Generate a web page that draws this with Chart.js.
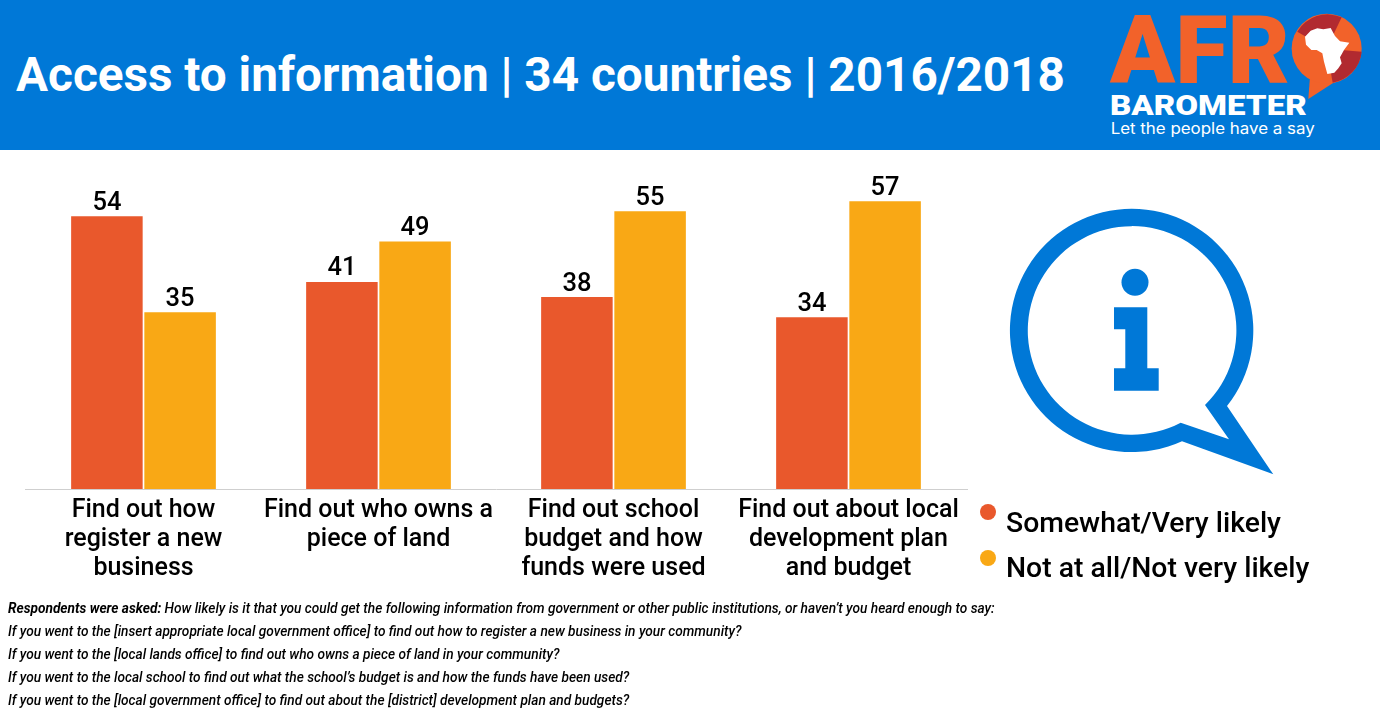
<!DOCTYPE html>
<html>
<head>
<meta charset="utf-8">
<title>Access to information</title>
<script src="https://cdn.jsdelivr.net/npm/chart.js@4"></script>
<style>
    html, body { margin: 0; padding: 0; background: #fff; }
    body { position: relative; width: 1380px; height: 720px; overflow: hidden; font-family: Roboto, sans-serif; color: #000; }
    #banner { position: absolute; left: 0; top: 0; width: 1380px; height: 150px; background: #0078d7; }
    #banner h1 { position: absolute; left: 16px; top: 47px; margin: 0; font-size: 47.7px; line-height: 56px; font-weight: 700; color: #fff; white-space: nowrap; }
    #logo { position: absolute; left: 1090px; top: 0; width: 290px; height: 150px; }
    #chart-box { position: absolute; left: 0; top: 150px; width: 975px; height: 450px; }
    #icon { position: absolute; left: 0; top: 0; width: 1380px; height: 720px; pointer-events: none; }
    #legend { position: absolute; left: 980px; top: 0; }
    .legend-dot { position: absolute; left: 0; width: 16px; height: 16px; border-radius: 50%; }
    .legend-text { position: absolute; left: 26px; font-size: 28.35px; line-height: 34px; font-weight: 500; white-space: nowrap; }
    #notes { position: absolute; left: 8px; top: 597px; font-size: 13.69px; line-height: 23px; font-style: italic; font-weight: 500; white-space: nowrap; }
    #notes b { font-weight: 700; }
</style>
</head>
<body>
<div id="banner">
    <h1>Access to information | 34 countries | 2016/2018</h1>
    <svg id="logo" viewBox="0 0 870 450">
        <text x="60" y="248" font-family="Roboto" font-weight="900" font-size="282" fill="#f2622a" textLength="540" lengthAdjust="spacingAndGlyphs">AFR</text>
        <path fill="#f2622a" d="M660 230 L655 297 L735 245 Z"/>
        <circle cx="710" cy="146" r="105" fill="#f2622a"/>
        <path fill="#b12a30" d="M710 146 L622 95 A105 105 0 0 1 755 52 Z"/>
        <path fill="#b12a30" d="M710 146 L815 155 A105 105 0 0 1 728 248 Z"/>
        <path fill="#fff" d="M645 110 L662 92 L682 85 L700 88 L722 84 L735 108 L750 124 L778 128 L762 150 L750 172 L755 190 L745 205 L733 218 L712 222 L702 185 L697 160 L680 150 L664 150 L648 134 Z"/>
        <text x="60" y="345" font-family="Roboto" font-weight="900" font-size="83" fill="#fff" textLength="590" lengthAdjust="spacingAndGlyphs">BAROMETER</text>
        <text x="62" y="402" font-family="Inter" font-weight="400" font-size="46" fill="#fff" textLength="612" lengthAdjust="spacingAndGlyphs">Let the people have a say</text>
    </svg>
</div>
<div id="chart-box"><canvas id="accessChart"></canvas></div>
<svg id="icon" viewBox="0 0 1380 720">
    <path fill="#0078d7" fill-rule="evenodd" d="M1227 406 A121.7 121.7 0 1 0 1182 441.2 L1273.3 474.3 Z M1205 405 A104.3 104.3 0 1 0 1180.7 422.7 L1229 439.3 Z"/>
    <circle cx="1135" cy="282.3" r="13.5" fill="#0078d7"/>
    <path fill="#0078d7" d="M1114 307.3 H1147.3 V368.3 H1158.7 V390.7 H1114 V368.3 H1125.3 V329.3 H1114 Z"/>
</svg>
<div id="legend"></div>
<div id="notes"></div>

<script>
    var categories = [
        ["Find out how", "register a new", "business"],
        ["Find out who owns a", "piece of land"],
        ["Find out school", "budget and how", "funds were used"],
        ["Find out about local", "development plan", "and budget"]
    ];
    var likely = [54, 41, 38, 34];
    var notLikely = [35, 49, 55, 57];
    var seriesNames = ["Somewhat/Very likely", "Not at all/Not very likely"];
    var seriesColors = ["#e9582c", "#f9a815"];
    var questionLead = "Respondents were asked:";
    var questionLines = [
        " How likely is it that you could get the following information from government or other public institutions, or haven\u2019t you heard enough to say:",
        "If you went to the [insert appropriate local government office] to find out how to register a new business in your community?",
        "If you went to the [local lands office] to find out who owns a piece of land in your community?",
        "If you went to the local school to find out what the school\u2019s budget is and how the funds have been used?",
        "If you went to the [local government office] to find out about the [district] development plan and budgets?"
    ];

    // value on top of each bar, baseline rule slightly wider than the plot
    var barExtras = {
        id: 'barExtras',
        afterDatasetsDraw: function (chart) {
            var ctx = chart.ctx;
            var xScale = chart.scales.x;
            ctx.save();
            ctx.strokeStyle = '#cfcfcf';
            ctx.lineWidth = 1;
            ctx.beginPath();
            ctx.moveTo(xScale.left - 1, chart.chartArea.bottom + 0.5);
            ctx.lineTo(xScale.right + 2, chart.chartArea.bottom + 0.5);
            ctx.stroke();

            ctx.fillStyle = '#000';
            ctx.font = '500 25.5px Roboto';
            ctx.textAlign = 'center';
            ctx.textBaseline = 'alphabetic';
            chart.data.datasets.forEach(function (dataset, i) {
                chart.getDatasetMeta(i).data.forEach(function (bar, j) {
                    ctx.fillText(dataset.data[j], bar.x, bar.y - 6.5);
                });
            });
            ctx.restore();
        }
    };

    var chart = new Chart(document.getElementById('accessChart'), {
        type: 'bar',
        data: {
            labels: categories,
            datasets: [
                { label: seriesNames[0], data: likely, backgroundColor: seriesColors[0] },
                { label: seriesNames[1], data: notLikely, backgroundColor: seriesColors[1] }
            ]
        },
        options: {
            responsive: true,
            maintainAspectRatio: false,
            animation: false,
            categoryPercentage: 0.623,
            barPercentage: 0.977,
            layout: { padding: { left: 26, right: 9, top: 36, bottom: 0 } },
            plugins: { legend: { display: false }, tooltip: { enabled: false } },
            scales: {
                x: {
                    afterFit: function (scale) { scale.height = 111; },
                    grid: { display: false },
                    border: { display: false },
                    ticks: {
                        color: '#000',
                        maxRotation: 0,
                        autoSkip: false,
                        padding: -1,
                        font: { family: 'Roboto', size: 25, weight: '500', lineHeight: 1.16 }
                    }
                },
                y: { display: false, min: 0, max: 60 }
            }
        },
        plugins: [barExtras]
    });

    // legend entries come from the chart's own datasets
    var legendBox = document.getElementById('legend');
    var legendDotTop = [504, 550];
    var legendTextTop = [506, 551];
    chart.data.datasets.forEach(function (dataset, i) {
        var dot = document.createElement('div');
        dot.className = 'legend-dot';
        dot.style.top = legendDotTop[i] + 'px';
        dot.style.background = dataset.backgroundColor;
        legendBox.appendChild(dot);
        var text = document.createElement('div');
        text.className = 'legend-text';
        text.style.top = legendTextTop[i] + 'px';
        text.textContent = dataset.label;
        legendBox.appendChild(text);
    });

    var notes = document.getElementById('notes');
    questionLines.forEach(function (line, i) {
        var row = document.createElement('div');
        if (i === 0) {
            var lead = document.createElement('b');
            lead.textContent = questionLead;
            row.appendChild(lead);
        }
        row.appendChild(document.createTextNode(line));
        notes.appendChild(row);
    });
</script>
</body>
</html>
